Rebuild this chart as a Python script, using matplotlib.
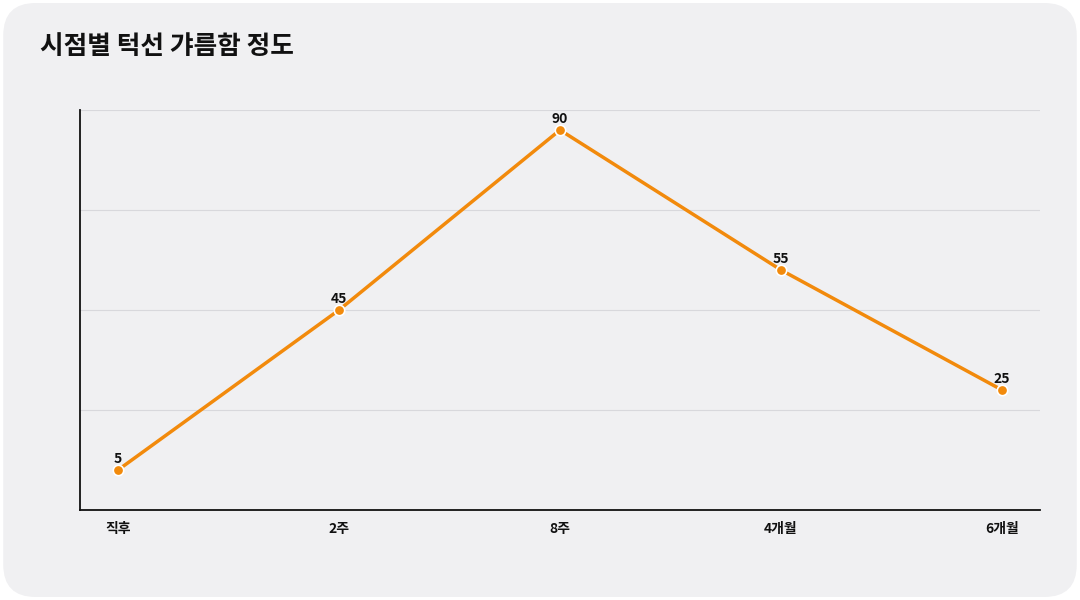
import matplotlib
matplotlib.use("Agg")
import matplotlib.pyplot as plt
from matplotlib.patches import FancyBboxPatch

plt.rcParams['font.family'] = ['Noto Sans CJK KR', 'DejaVu Sans']

categories = ["직후", "2주", "8주", "4개월", "6개월"]
values = [5, 45, 90, 55, 25]
title = "시점별 턱선 갸름함 정도"

fig = plt.figure(figsize=(10.8, 6.0), dpi=100)
fig.patch.set_facecolor("white")
bg = FancyBboxPatch((0.003, 0.005), 0.994, 0.99, boxstyle="round,pad=0,rounding_size=0.03",
                    transform=fig.transFigure, facecolor="#f0f0f2", edgecolor="none",
                    mutation_aspect=1.8, zorder=-10)
fig.patches.append(bg)

ax = fig.add_axes([80/1080, 90/600, 960/1080, 400/600])
ax.set_facecolor("none")
x = list(range(len(categories)))
ax.plot(x, values, color="#F28A0C", lw=2.5, marker="o", ms=7.5,
        markerfacecolor="#F28A0C", markeredgecolor="white", markeredgewidth=1.2, zorder=3)
for xi, v in zip(x, values):
    ax.annotate(str(v), (xi, v), xytext=(0, 3), textcoords="offset points",
                ha="center", va="bottom", fontsize=10, fontweight="bold", color="#111111")
ax.set_xlim(-0.172, 4.172)
ax.set_ylim(-5, 95)
ax.set_yticks([20, 45, 70, 95])
ax.set_yticklabels([])
ax.tick_params(axis="y", length=0)
ax.grid(axis="y", color="#d8d8dc", lw=0.8)
ax.set_xticks(x)
ax.set_xticklabels(categories, fontsize=10, fontweight="bold", color="#111111")
ax.tick_params(axis="x", length=0, pad=9)
for s in ["top", "right"]:
    ax.spines[s].set_visible(False)
for s in ["left", "bottom"]:
    ax.spines[s].set_color("#111111")
    ax.spines[s].set_linewidth(1.3)

fig.text(40/1080, 1 - 47/600, title, fontsize=18.5, fontweight="bold", color="#111111", va="center")
fig.savefig("out.png", dpi=100, facecolor=fig.get_facecolor())
